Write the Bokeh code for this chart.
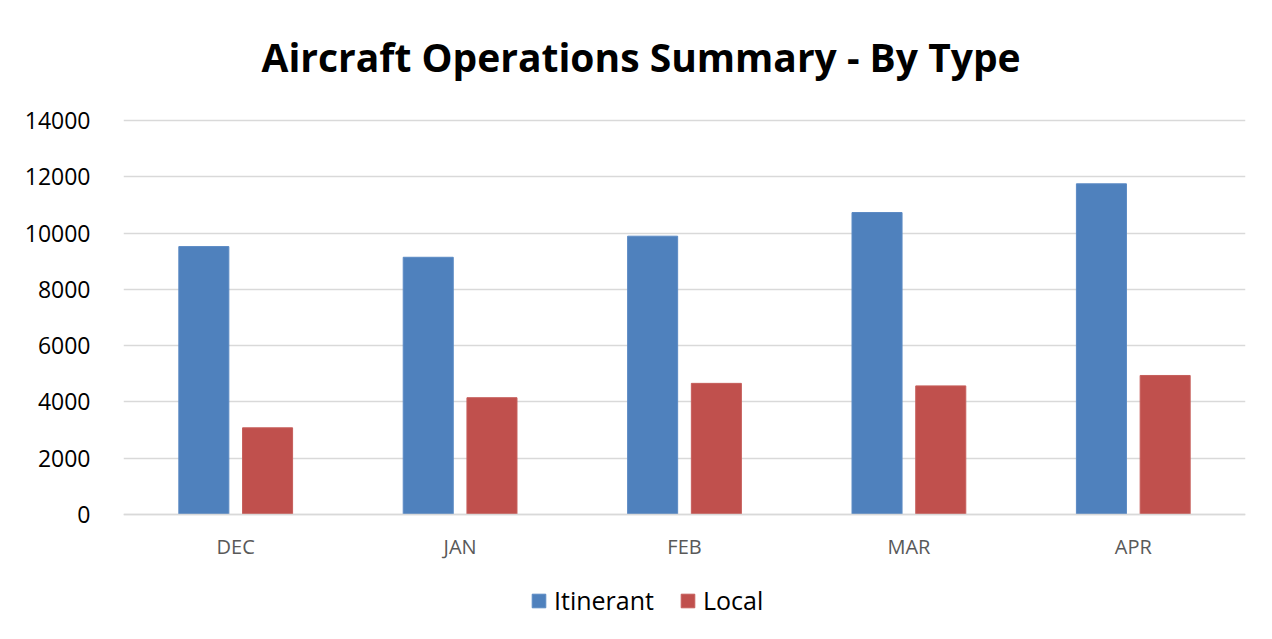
from bokeh.plotting import figure
from bokeh.models import ColumnDataSource, Range1d, FactorRange, Legend, LegendItem, Title
from bokeh.transform import dodge
from bokeh.embed import file_html
from bokeh.resources import INLINE

months = ["DEC", "JAN", "FEB", "MAR", "APR"]
itinerant = [9520, 9140, 9890, 10730, 11750]
local = [3080, 4150, 4660, 4570, 4940]
y_ticks = [0, 2000, 4000, 6000, 8000, 10000, 12000, 14000]

src = ColumnDataSource(dict(month=months, itinerant=itinerant, local=local))

# frame extends below the zero line to hold the category labels and legend
p = figure(frame_width=1122, frame_height=522, output_backend="svg", toolbar_location=None,
           x_range=FactorRange(*months, range_padding=0), y_range=Range1d(-4157, 14391),
           min_border_left=123, min_border_right=27, min_border_top=109, min_border_bottom=8,
           title=None)

p.outline_line_color = None
p.border_fill_color = "white"
p.background_fill_color = "white"

r1 = p.vbar(x=dodge("month", -0.142, range=p.x_range), top="itinerant", width=0.223, source=src,
            fill_color="#4F81BD", line_color="#5B8AC4", line_width=1)
r2 = p.vbar(x=dodge("month", 0.142, range=p.x_range), top="local", width=0.223, source=src,
            fill_color="#C0504D", line_color="#C65E5B", line_width=1)

p.yaxis.ticker = y_ticks
p.yaxis.axis_line_color = None
p.yaxis.major_tick_line_color = None
p.yaxis.minor_tick_line_color = None
p.yaxis.major_label_text_font = "Open Sans"
p.yaxis.major_label_text_font_size = "23px"
p.yaxis.major_label_text_color = "#000000"
p.yaxis.major_label_standoff = 27

p.xaxis.fixed_location = 0
p.xaxis.axis_line_color = "#D9D9D9"
p.xaxis.axis_line_width = 1.5
p.xaxis.major_tick_line_color = None
p.xaxis.minor_tick_line_color = None
p.xaxis.major_label_text_font = "Open Sans"
p.xaxis.major_label_text_font_size = "20px"
p.xaxis.major_label_text_color = "#595959"
p.xaxis.major_label_standoff = 12

p.xgrid.grid_line_color = None
p.ygrid.grid_line_color = "#D9D9D9"
p.ygrid.grid_line_width = 1.5

title = Title(text="Aircraft Operations Summary - By Type", align="left", offset=138,
              text_font="Open Sans", text_font_style="bold", text_font_size="39px",
              text_color="#000000", standoff=54)
p.add_layout(title, "above")

legend = Legend(items=[LegendItem(label="Itinerant", renderers=[r1]),
                       LegendItem(label="Local", renderers=[r2])],
                location=(407, 14), orientation="horizontal",
                glyph_width=17, glyph_height=17, label_text_font="Open Sans",
                label_text_font_size="25px", label_text_color="#000000",
                label_standoff=7, spacing=25, padding=0, margin=0,
                border_line_alpha=0, background_fill_alpha=0)
p.add_layout(legend, "center")

open("out.html", "w").write(file_html(p, INLINE))
